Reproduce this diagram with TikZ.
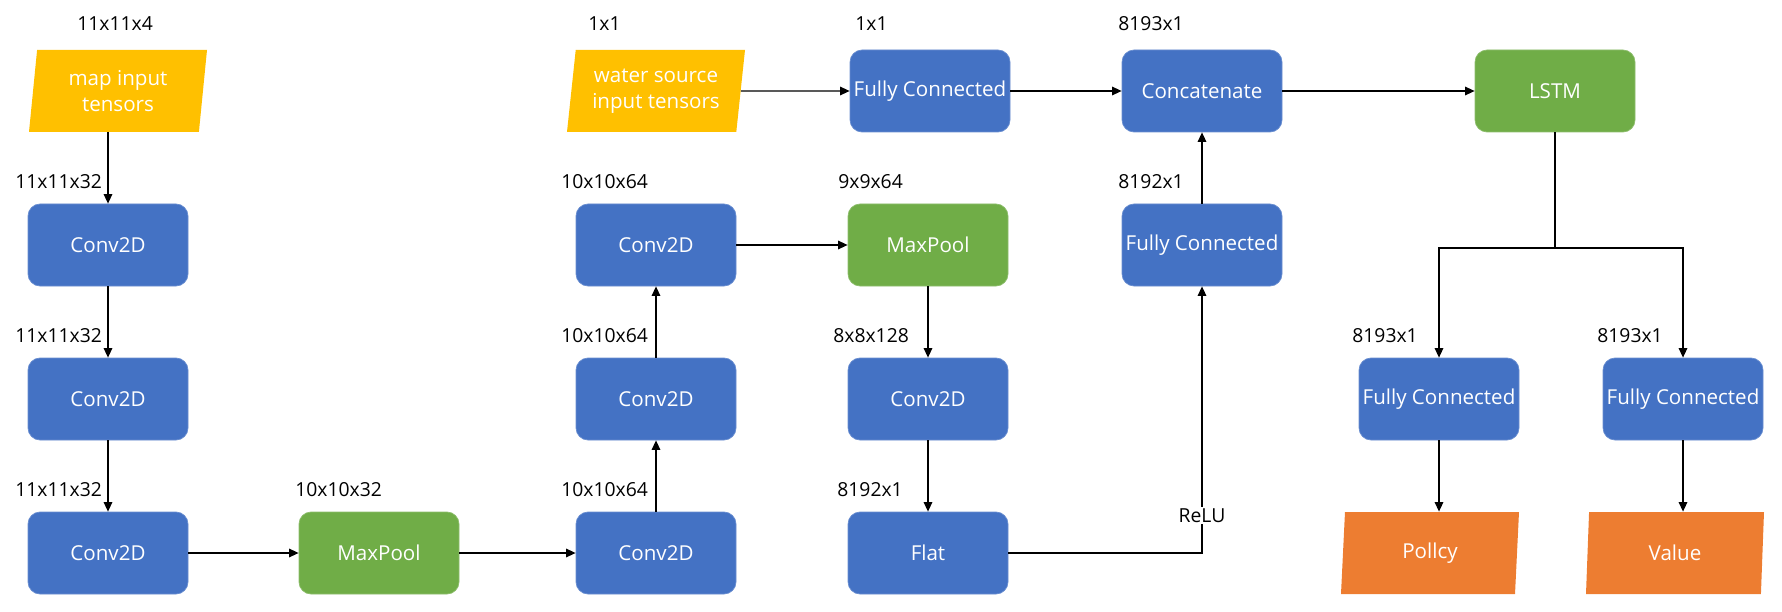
\documentclass[tikz,border=0pt]{standalone}
\usepackage{fontspec}
\setmainfont{Open Sans}
\definecolor{BleuCouche}{HTML}{4472C4}
\definecolor{VertCouche}{HTML}{70AD47}
\definecolor{JauneEntree}{HTML}{FFC000}
\definecolor{OrangeSortie}{HTML}{ED7D31}
\usetikzlibrary{arrows.meta}
\usetikzlibrary{shapes.geometric}
\usetikzlibrary{positioning}

\begin{document}
\begin{tikzpicture}[
    bluebox/.style={rectangle, rounded corners=0.24cm, minimum width=3.2cm, minimum height=1.64cm,
        fill=BleuCouche, draw=BleuCouche!80!white, line width=0.4pt, text=white,
        font=\fontsize{11.7}{14}\selectfont, align=center, inner sep=0pt},
    greenbox/.style={bluebox, fill=VertCouche, draw=VertCouche!80!white},
    iobox/.style={trapezium, trapezium left angle=79, trapezium right angle=101,
        trapezium stretches body, minimum width=3.56cm, minimum height=1.64cm,
        fill=JauneEntree, text=white, font=\fontsize{11.7}{15}\selectfont, align=center, inner sep=0pt},
    dim/.style={anchor=west, font=\fontsize{11}{13}\selectfont, inner sep=0pt},
    relu/.style={fill=white, font=\fontsize{11}{13}\selectfont, inner sep=1pt},
    link/.style={line width=0.85pt},
    arr/.style={line width=0.85pt, arrows={-Stealth[length=5.4pt, width=4.8pt, inset=0]}}
]
    \useasboundingbox (0,0) rectangle (35.64,-12.24);
    % inputs
    \node[iobox] (mapin) at (2.36,-1.82) {map input\\tensors};
    \node[iobox] (water) at (13.12,-1.82) {water source\\input tensors};
    % layers
    \foreach \r/\y in {1/-4.9, 2/-7.98, 3/-11.06}
        \node[bluebox] (conv\r) at (2.16,\y) {Conv2D};
    \node[greenbox] (pool1) at (7.58,-11.06) {MaxPool};
    \node[bluebox] (conv4) at (13.12,-11.06) {Conv2D};
    \node[bluebox] (conv5) at (13.12,-7.98) {Conv2D};
    \node[bluebox] (conv6) at (13.12,-4.9) {Conv2D};
    \node[greenbox] (pool2) at (18.56,-4.9) {MaxPool};
    \node[bluebox] (conv7) at (18.56,-7.98) {Conv2D};
    \node[bluebox] (flat) at (18.56,-11.06) {Flat};
    \node[bluebox] (fcwater) at (18.6,-1.82) {Fully Connected};
    \node[bluebox] (fcmap) at (24.04,-4.9) {Fully Connected};
    \node[bluebox] (concat) at (24.04,-1.82) {Concatenate};
    \node[greenbox] (lstm) at (31.1,-1.82) {LSTM};
    \node[bluebox] (fcpolicy) at (28.78,-7.98) {Fully Connected};
    \node[bluebox] (fcvalue) at (33.66,-7.98) {Fully Connected};
    % outputs
    \node[iobox, fill=OrangeSortie] (policy) at (28.6,-11.06) {Pollcy};
    \node[iobox, fill=OrangeSortie] (value) at (33.5,-11.06) {Value};
    % tensor sizes
    \foreach \x/\y/\t [count=\i] in {1.54/-0.48/11x11x4, 11.76/-0.48/1x1, 17.1/-0.48/1x1,
            22.36/-0.48/8193x1, 0.3/-3.64/11x11x32, 11.22/-3.64/10x10x64, 16.76/-3.64/9x9x64,
            22.36/-3.64/8192x1, 0.3/-6.72/11x11x32, 11.22/-6.72/10x10x64, 16.66/-6.72/8x8x128,
            27.04/-6.72/8193x1, 31.94/-6.72/8193x1, 0.3/-9.8/11x11x32, 5.9/-9.8/10x10x32,
            11.22/-9.8/10x10x64, 16.74/-9.8/8192x1}
        \node[dim] (dim\i) at (\x,\y) {\t};
    % connectors
    \draw[arr] (mapin.south -| conv1.north) -- (conv1.north);
    \draw[arr] (conv1) -- (conv2);
    \draw[arr] (conv2) -- (conv3);
    \draw[arr] (conv3) -- (pool1);
    \draw[arr] (pool1) -- (conv4);
    \draw[arr] (conv4) -- (conv5);
    \draw[arr] (conv5) -- (conv6);
    \draw[arr] (conv6) -- (pool2);
    \draw[arr] (pool2) -- (conv7);
    \draw[arr] (conv7) -- (flat);
    \draw[arr] (flat.east) -| (fcmap.south) node[relu, pos=0.57] (relulbl) {ReLU};
    \draw[arr] (fcmap) -- (concat);
    \draw[arr] (water.east) -- (fcwater.west);
    \draw[arr] (fcwater) -- (concat);
    \draw[arr] (concat) -- (lstm);
    \coordinate (split) at (31.1,-4.96);
    \draw[link] (lstm.south) -- (split);
    \draw[arr] (split) -| (fcpolicy.north);
    \draw[arr] (split) -| (fcvalue.north);
    \draw[arr] (fcpolicy.south) -- (fcpolicy.south |- policy.north);
    \draw[arr] (fcvalue.south) -- (fcvalue.south |- value.north);
\end{tikzpicture}
\end{document}
